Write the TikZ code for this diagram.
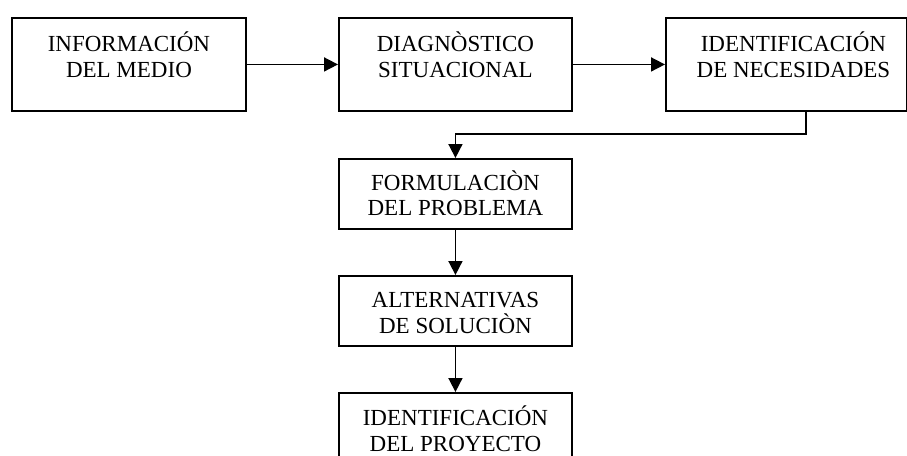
\documentclass[tikz,border=0pt]{standalone}
\usepackage{fontspec}
\setmainfont{Liberation Serif}
\usetikzlibrary{arrows.meta,calc}
\begin{document}
\begin{tikzpicture}[x=1pt,y=-1pt,
 box/.style={draw,line width=1.9pt,rectangle,inner sep=0pt,anchor=north west},
 lbl/.style={font=\fontsize{23}{26}\selectfont,anchor=base,inner sep=0pt},
 conn/.style={line width=1.7pt,-{Triangle[length=14pt,width=14pt]}}]
\useasboundingbox (0,0) rectangle (907,455);
\clip (0,0) rectangle (907,455);
\node[box,minimum width=234pt,minimum height=93pt] (b1) at (11,17) {};
\node[box,minimum width=233pt,minimum height=93pt] (b2) at (338,17) {};
\node[box,minimum width=241pt,minimum height=93pt] (b3) at (665,17) {};
\node[box,minimum width=233pt,minimum height=70pt] (b4) at (338,158) {};
\node[box,minimum width=233pt,minimum height=70pt] (b5) at (338,275) {};
\node[box,minimum width=233pt,minimum height=90pt] (b6) at (338,392) {};
\node[lbl] (t1a) at ($(b1.north)+(0,34)$) {INFORMACIÓN};
\node[lbl] (t1b) at ($(b1.north)+(0,60)$) {DEL MEDIO};
\node[lbl] (t2a) at ($(b2.north)+(0,34)$) {DIAGNÒSTICO};
\node[lbl] (t2b) at ($(b2.north)+(0,60)$) {SITUACIONAL};
\node[lbl] (t3a) at ($(b3.north)+(7,34)$) {IDENTIFICACIÓN};
\node[lbl] (t3b) at ($(b3.north)+(7,60)$) {DE NECESIDADES};
\node[lbl] (t4a) at ($(b4.north)+(0,32)$) {FORMULACIÒN};
\node[lbl] (t4b) at ($(b4.north)+(0,57)$) {DEL PROBLEMA};
\node[lbl] (t5a) at ($(b5.north)+(0,32)$) {ALTERNATIVAS};
\node[lbl] (t5b) at ($(b5.north)+(0,58)$) {DE SOLUCIÒN};
\node[lbl] (t6a) at ($(b6.north)+(0,33)$) {IDENTIFICACIÓN};
\node[lbl] (t6b) at ($(b6.north)+(0,59)$) {DEL PROYECTO};
\draw[conn] (b1.east) -- (b2.west);
\draw[conn] (b2.east) -- (b3.west);
\draw[conn] ($(b3.south)+(19.5,0)$) |- ($(b4.north)+(0,-24)$) -- (b4.north);
\draw[conn] (b4.south) -- (b5.north);
\draw[conn] (b5.south) -- (b6.north);
\end{tikzpicture}
\end{document}
